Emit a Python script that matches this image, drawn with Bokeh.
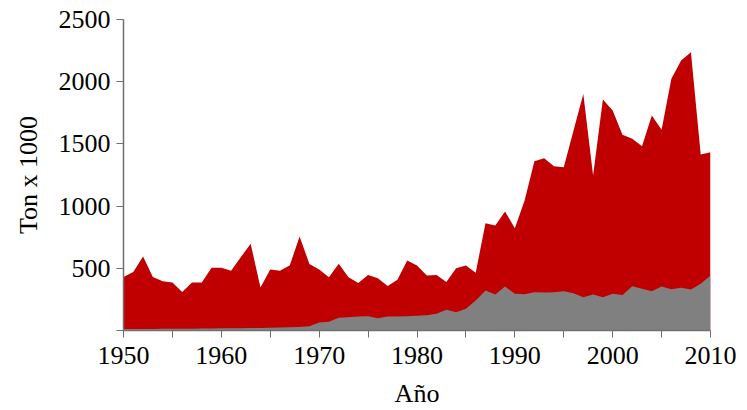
from bokeh.plotting import figure
from bokeh.models import FixedTicker, Range1d
from bokeh.embed import file_html
from bokeh.resources import INLINE

years = list(range(1950, 2011))
total = [430, 470, 595, 430, 395, 385, 310, 385, 385, 505,
         505, 480, 590, 697, 345, 490, 480, 525, 755, 535,
         490, 429, 536, 429, 381, 447, 421, 357, 407, 563,
         522, 442, 447, 389, 501, 522, 464, 863, 844, 957,
         822, 1045, 1360, 1385, 1321, 1313, 1608, 1902, 1246, 1857,
         1768, 1573, 1541, 1482, 1728, 1613, 2023, 2170, 2237, 1415,
         1433]
grey = [12, 12, 13, 13, 14, 14, 15, 15, 16, 16,
        18, 18, 19, 20, 20, 22, 24, 26, 28, 35,
        65, 70, 102, 107, 113, 115, 99, 113, 113, 115,
        118, 123, 134, 166, 147, 174, 241, 322, 289, 354,
        295, 292, 308, 305, 308, 316, 300, 268, 289, 268,
        295, 286, 356, 335, 316, 354, 332, 343, 330, 375,
        442]
zeros = [0] * len(years)

p = figure(width=747, height=410, output_backend="svg", toolbar_location=None,
           x_range=Range1d(1950, 2010), y_range=Range1d(0, 2500),
           min_border_left=123, min_border_right=37, min_border_top=19,
           min_border_bottom=80)

p.varea(x=years, y1=zeros, y2=total, fill_color="#C00000")
p.varea(x=years, y1=zeros, y2=grey, fill_color="#808080")

p.grid.visible = False
p.outline_line_color = None

font = "Liberation Serif"
for ax in (p.xaxis[0], p.yaxis[0]):
    ax.axis_line_color = "#6f6f6f"
    ax.axis_line_width = 1.5
    ax.major_tick_line_color = "#6f6f6f"
    ax.minor_tick_line_color = "#6f6f6f"
    ax.major_tick_out = 7
    ax.major_tick_in = 0
    ax.minor_tick_in = 0
    ax.major_label_text_font = font
    ax.major_label_text_font_size = "26px"
    ax.major_label_text_color = "black"
    ax.axis_label_text_font = font
    ax.axis_label_text_font_size = "26px"
    ax.axis_label_text_font_style = "normal"
    ax.axis_label_text_color = "black"

p.xaxis.ticker = FixedTicker(ticks=list(range(1950, 2011, 10)),
                             minor_ticks=list(range(1955, 2010, 10)))
p.xaxis.minor_tick_out = 7
p.xaxis.axis_label = "Año"
p.xaxis.major_label_standoff = 9
p.xaxis.axis_label_standoff = 12

p.yaxis.ticker = FixedTicker(ticks=[0, 500, 1000, 1500, 2000, 2500], minor_ticks=[])
p.yaxis.major_label_overrides = {0: ""}
p.yaxis.axis_label = "Ton x 1000"
p.yaxis.major_label_standoff = 6
p.yaxis.axis_label_standoff = 13

open("out.html", "w").write(file_html(p, INLINE))
